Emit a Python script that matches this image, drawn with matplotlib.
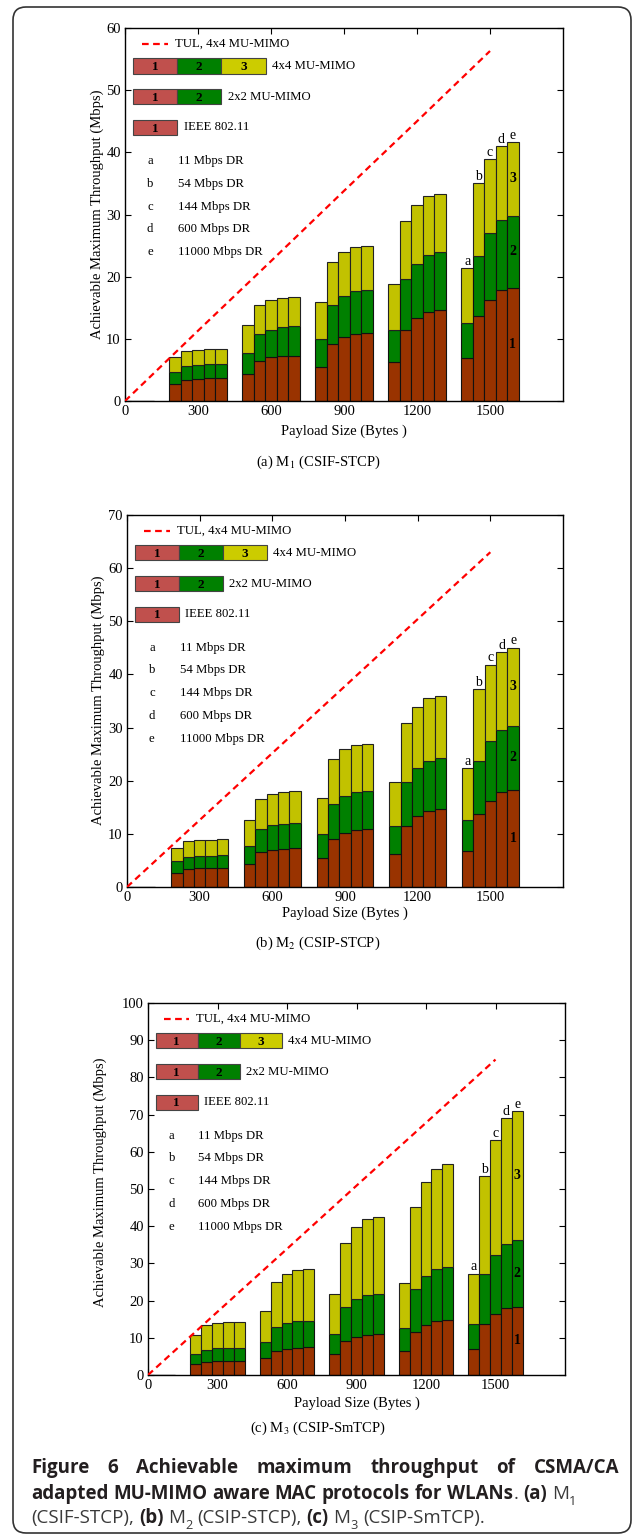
import matplotlib
matplotlib.use("Agg")
import matplotlib.pyplot as plt
from matplotlib.patches import Rectangle, FancyBboxPatch
from matplotlib.transforms import IdentityTransform

plt.rcParams['font.family'] = ['Liberation Serif', 'DejaVu Serif']
plt.rcParams['mathtext.fontset'] = 'stix'

W, H, DPI = 636, 1538, 100

# ---------------- data ----------------
payload = [0, 300, 600, 900, 1200, 1500]
xtick_vals = [0, 300, 600, 900, 1200, 1500]
rate_tags = ["a", "b", "c", "d", "e"]
rate_names = ["11 Mbps DR", "54 Mbps DR", "144 Mbps DR", "600 Mbps DR", "11000 Mbps DR"]
tul_x = [0, 300, 600, 900, 1200, 1500]

# Panel (a) M1 (CSIF-STCP): throughput (Mbps) per payload group, per data rate a..e
m1_tul = [0, 11.3, 22.5, 33.8, 45.0, 56.3]
m1_ieee = [[0, 0, 0, 0, 0],
           [2.7, 3.4, 3.5, 3.65, 3.65],
           [4.4, 6.4, 7.0, 7.2, 7.3],
           [5.5, 9.2, 10.25, 10.8, 11.0],
           [6.2, 11.5, 13.3, 14.3, 14.65],
           [6.9, 13.7, 16.2, 17.8, 18.25]]
m1_mimo2 = [[0, 0, 0, 0, 0],
            [4.7, 5.6, 5.8, 5.9, 5.9],
            [7.7, 10.8, 11.5, 11.9, 12.0],
            [9.9, 15.4, 16.9, 17.7, 17.9],
            [11.4, 19.6, 22.0, 23.5, 23.9],
            [12.6, 23.4, 27.1, 29.1, 29.8]]
m1_mimo4 = [[0, 0, 0, 0, 0],
            [7.0, 8.05, 8.2, 8.3, 8.3],
            [12.2, 15.5, 16.2, 16.6, 16.7],
            [15.9, 22.4, 24.0, 24.7, 25.0],
            [18.9, 28.9, 31.6, 32.9, 33.3],
            [21.4, 35.0, 38.9, 41.0, 41.65]]

# Panel (b) M2 (CSIP-STCP)
m2_tul = [0, 12.6, 25.2, 37.8, 50.4, 63.0]
m2_ieee = [[0, 0, 0, 0, 0],
           [2.6, 3.4, 3.5, 3.6, 3.6],
           [4.4, 6.5, 7.0, 7.2, 7.3],
           [5.5, 9.1, 10.2, 10.8, 11.0],
           [6.3, 11.55, 13.3, 14.3, 14.6],
           [6.85, 13.7, 16.25, 17.8, 18.3]]
m2_mimo2 = [[0, 0, 0, 0, 0],
            [4.8, 5.65, 5.85, 5.9, 6.0],
            [7.8, 10.9, 11.6, 11.9, 12.1],
            [10.0, 15.6, 17.1, 17.9, 18.1],
            [11.55, 19.8, 22.35, 23.8, 24.2],
            [12.7, 23.7, 27.4, 29.6, 30.3]]
m2_mimo4 = [[0, 0, 0, 0, 0],
            [7.4, 8.6, 8.85, 8.9, 9.0],
            [12.7, 16.6, 17.5, 17.9, 18.0],
            [16.8, 24.0, 25.9, 26.7, 27.0],
            [19.8, 30.9, 33.9, 35.5, 36.0],
            [22.3, 37.2, 41.8, 44.2, 45.0]]

# Panel (c) M3 (CSIP-SmTCP)
m3_tul = [0, 17.0, 33.9, 50.9, 67.8, 84.8]
m3_ieee = [[0, 0, 0, 0, 0],
           [2.9, 3.4, 3.7, 3.7, 3.7],
           [4.5, 6.5, 7.1, 7.35, 7.4],
           [5.6, 9.15, 10.2, 10.85, 11.0],
           [6.4, 11.6, 13.4, 14.4, 14.7],
           [6.9, 13.7, 16.3, 17.9, 18.4]]
m3_mimo2 = [[0, 0, 0, 0, 0],
            [5.6, 6.8, 7.2, 7.3, 7.35],
            [8.9, 12.8, 13.9, 14.4, 14.5],
            [10.9, 18.2, 20.4, 21.5, 21.8],
            [12.6, 23.0, 26.5, 28.4, 29.1],
            [13.7, 27.2, 32.3, 35.3, 36.3]]
m3_mimo4 = [[0, 0, 0, 0, 0],
            [10.8, 13.4, 13.9, 14.2, 14.3],
            [17.3, 25.1, 27.1, 28.1, 28.4],
            [21.7, 35.6, 39.7, 41.9, 42.6],
            [24.8, 45.1, 51.8, 55.5, 56.8],
            [27.2, 53.5, 63.1, 69.0, 70.9]]

# ---------------- style ----------------
C1, C2, C3 = '#993300', '#008000', '#C2C200'
LC1, LC2, LC3 = '#C0504D', '#008000', '#CCCC00'
BW = 47

panels = [
    dict(tul=m1_tul, ieee=m1_ieee, m2=m1_mimo2, m4=m1_mimo4, ymax=60,
         title=r"(a) M$_1$ (CSIF-STCP)", box=(125, 563, 28, 401),
         ylab=(97, 214), xlab_y=431, title_y=462),
    dict(tul=m2_tul, ieee=m2_ieee, m2=m2_mimo2, m4=m2_mimo4, ymax=70,
         title=r"(b) M$_2$ (CSIP-STCP)", box=(127, 563, 515, 887),
         ylab=(98, 700), xlab_y=913, title_y=943),
    dict(tul=m3_tul, ieee=m3_ieee, m2=m3_mimo2, m4=m3_mimo4, ymax=100,
         title=r"(c) M$_3$ (CSIP-SmTCP)", box=(148, 565, 1003, 1375),
         ylab=(100, 1182), xlab_y=1403, title_y=1428),
]

fig = plt.figure(figsize=(W / DPI, H / DPI), dpi=DPI)

for P in panels:
    l, r, t, b = P['box']
    ax = fig.add_axes([l / W, 1 - b / H, (r - l) / W, (b - t) / H])
    ieee, m2, m4 = P['ieee'], P['m2'], P['m4']
    for j in range(5):
        xs = [p + (j - 2) * BW for p in payload]
        s1 = [row[j] for row in ieee]
        top2 = [row[j] for row in m2]
        top4 = [row[j] for row in m4]
        s2 = [a - c for a, c in zip(top2, s1)]
        s3 = [a - c for a, c in zip(top4, top2)]
        ax.bar(xs, s1, BW, color=C1, edgecolor='#111111', linewidth=0.8, zorder=2)
        ax.bar(xs, s2, BW, bottom=s1, color=C2, edgecolor='#111111', linewidth=0.8, zorder=2)
        ax.bar(xs, s3, BW, bottom=top2, color=C3, edgecolor='#222222', linewidth=0.8, zorder=2)
        # rate tags above the last group
        ax.annotate(rate_tags[j], (xs[-1], top4[-1]), xytext=(0, 0.3),
                    textcoords='offset points', ha='center', va='bottom',
                    fontsize=10, zorder=4)
    # segment numbers inside last bar
    xl = payload[-1] + 2 * BW
    e1, e2, e4 = ieee[-1][-1], m2[-1][-1], m4[-1][-1]
    for lab, yv in (("1", e1 / 2), ("2", (e1 + e2) / 2), ("3", (e2 + e4) / 2)):
        ax.text(xl, yv, lab, ha='center', va='center', fontsize=10,
                fontweight='bold', zorder=4)
    ax.plot(tul_x, P['tul'], color='#FF0000', linestyle=(0, (3, 2)),
            linewidth=1.6, zorder=3)

    ax.set_xlim(0, 1800)
    ax.set_ylim(0, P['ymax'])
    ax.set_xticks(xtick_vals)
    ax.set_yticks(list(range(0, P['ymax'] + 1, 10)))
    ax.tick_params(direction='in', top=True, right=True, length=4, width=0.8,
                   labelsize=10.5, pad=3)
    for s in ax.spines.values():
        s.set_linewidth(1.0)

    # ---- in-plot legend ----
    tr = ax.transAxes
    ax.plot([0.039, 0.098], [0.958, 0.958], color='#FF0000',
            linestyle=(0, (3, 2)), linewidth=1.6, transform=tr, clip_on=False)
    ax.text(0.114, 0.958, "TUL, 4x4 MU-MIMO", transform=tr, fontsize=9.2,
            va='center', ha='left')
    bx, bwid, bh = 0.018, 0.101, 0.041
    rows = [(0.878, [LC1, LC2, LC3], "4x4 MU-MIMO"),
            (0.795, [LC1, LC2], "2x2 MU-MIMO"),
            (0.713, [LC1], "IEEE 802.11")]
    for y0, cols, name in rows:
        for k, c in enumerate(cols):
            ax.add_patch(Rectangle((bx + k * bwid, y0), bwid, bh, transform=tr,
                                   facecolor=c, edgecolor='#444444',
                                   linewidth=0.8, clip_on=False, zorder=3))
            ax.text(bx + (k + 0.5) * bwid, y0 + bh * 0.42, str(k + 1),
                    transform=tr, ha='center', va='center', fontsize=9.5,
                    fontweight='bold', zorder=4)
        ax.text(bx + len(cols) * bwid + 0.015, y0 + bh / 2, name, transform=tr,
                fontsize=9.2, va='center', ha='left')
    for i, (tag, nm) in enumerate(zip(rate_tags, rate_names)):
        yy = 0.643 - i * 0.061
        ax.text(0.057, yy, tag, transform=tr, fontsize=9.2, va='center', ha='center')
        ax.text(0.121, yy, nm, transform=tr, fontsize=9.2, va='center', ha='left')

    # labels
    fig.text(P['ylab'][0] / W, 1 - P['ylab'][1] / H,
             "Achievable Maximum Throughput (Mbps)", rotation=90,
             ha='center', va='center', fontsize=10.5)
    fig.text(((l + r) / 2) / W, 1 - P['xlab_y'] / H, "Payload Size (Bytes )",
             ha='center', va='center', fontsize=10.5)
    fig.text(318 / W, 1 - P['title_y'] / H, P['title'], ha='center',
             va='center', fontsize=10.5)

# ---------------- border ----------------
fig.add_artist(FancyBboxPatch((13, H - 1533), 618, 1526,
                              boxstyle="round,pad=0,rounding_size=13",
                              transform=IdentityTransform(), fill=False,
                              edgecolor='#333333', linewidth=1.2))

# ---------------- caption ----------------
renderer = fig.canvas.get_renderer()
CAP_FONT = ['Open Sans', 'DejaVu Sans']
DARK = '#231F20'
REG = '#3a3a3a'


def style_kw(st, size):
    if st == 'b':
        return dict(fontsize=size, fontweight='bold', family=CAP_FONT, color=DARK)
    if st == 'sub':
        return dict(fontsize=size * 0.68, family=CAP_FONT, color=REG)
    return dict(fontsize=size, family=CAP_FONT, color=REG)


def tw(s, st, size):
    tt = fig.text(0, 0, s, **style_kw(st, size))
    w = tt.get_window_extent(renderer).width
    tt.remove()
    return w


def spw(st, size):
    return tw("n n", st, size) - tw("nn", st, size)


def line_width(tokens, size):
    w = 0
    for s, st in tokens:
        w += spw(st, size) if s == ' ' else tw(s, st, size)
    return w


def draw_tokens(tokens, x, ybase, size, gap=None):
    for s, st in tokens:
        if s == ' ':
            x += gap if gap is not None else spw(st, size)
            continue
        dy = -size * 0.30 * DPI / 72 if st == 'sub' else 0
        fig.text(x / W, 1 - (ybase - dy) / H, s, ha='left', va='baseline',
                 **style_kw(st, size))
        x += tw(s, st, size)


SP_B, SP_R = (' ', 'b'), (' ', 'r')
line1 = [("Figure", 'b'), SP_B, ("6", 'b'), SP_B, ("Achievable", 'b'), SP_B,
         ("maximum", 'b'), SP_B, ("throughput", 'b'), SP_B, ("of", 'b'), SP_B,
         ("CSMA/CA", 'b')]
line2 = [("adapted", 'b'), SP_B, ("MU-MIMO", 'b'), SP_B, ("aware", 'b'), SP_B,
         ("MAC", 'b'), SP_B, ("protocols", 'b'), SP_B, ("for", 'b'), SP_B,
         ("WLANs", 'b'), (".", 'r'), SP_R, ("(a)", 'b'), SP_R, ("M", 'r'), ("1", 'sub')]
line3 = [("(CSIF-STCP),", 'r'), SP_R, ("(b)", 'b'), SP_R, ("M", 'r'), ("2", 'sub'),
         SP_R, ("(CSIP-STCP),", 'r'), SP_R, ("(c)", 'b'), SP_R, ("M", 'r'),
         ("3", 'sub'), SP_R, ("(CSIP-SmTCP).", 'r')]

X0, X1 = 31, 619
base = 12.0
size = base * 451.0 / line_width(line3, base)
words1 = [tk for tk in line1 if tk[0] != ' ']
sumw = sum(tw(s, st, size) for s, st in words1)
gap1 = (X1 - X0 - sumw) / (len(words1) - 1)
draw_tokens(line1, X0, 1473, size, gap=gap1)
draw_tokens(line2, X0, 1499, size)
draw_tokens(line3, X0, 1523, size)

fig.savefig("out.png", dpi=DPI)
